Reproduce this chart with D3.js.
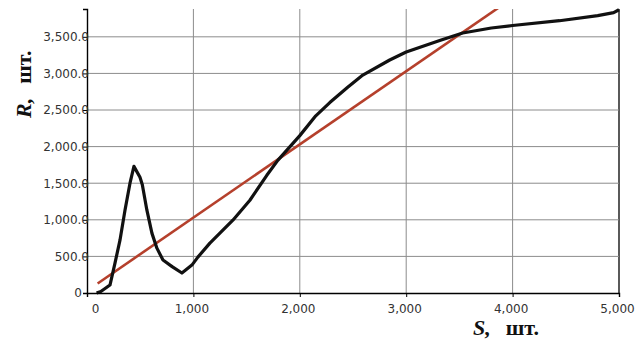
<!DOCTYPE html>
<html>
<head>
<meta charset="utf-8">
<script src="https://cdn.jsdelivr.net/npm/d3@7"></script>
<style>
  body { margin: 0; background: #fff; }
  svg { display: block; }
</style>
</head>
<body>
<svg id="chart"></svg>
<script>
// observed curve R(S)
const curveS = [90, 130, 216, 263, 310, 357, 404, 441, 498, 520, 563, 610, 657, 714, 800, 892, 986, 1042, 1155, 1371, 1531, 1690, 1793, 2000, 2150, 2282, 2450, 2592, 2845, 3000, 3315, 3531, 3800, 4000, 4441, 4800, 4950, 5000];
const curveR = [0, 20, 109, 409, 722, 1131, 1500, 1730, 1580, 1480, 1131, 818, 613, 450, 360, 273, 381, 490, 681, 995, 1267, 1608, 1812, 2150, 2420, 2602, 2810, 2978, 3183, 3292, 3450, 3552, 3620, 3655, 3720, 3790, 3830, 3870];

// trend line
const trendS = [100, 4000];
const trendR = [130, 4030];

const xTicks = [0, 1000, 2000, 3000, 4000, 5000];
const yTicks = [0, 500, 1000, 1500, 2000, 2500, 3000, 3500];

const width = 643, height = 342;
const margin = {top: 9, right: 24, bottom: 49, left: 87};
const innerW = width - margin.left - margin.right;
const innerH = height - margin.top - margin.bottom;

const svg = d3.select('#chart')
    .attr('width', width)
    .attr('height', height);

const chart = svg.append('g')
    .attr('transform', `translate(${margin.left}, ${margin.top})`);

const xscale = d3.scaleLinear().domain([0, 5000]).range([0, innerW]);
const yscale = d3.scaleLinear().domain([0, 3880]).range([innerH, 0]);

// grid
chart.append('g')
    .selectAll('line')
    .data(xTicks.slice(1))
    .join('line')
    .attr('x1', d => xscale(d)).attr('x2', d => xscale(d))
    .attr('y1', 0).attr('y2', innerH)
    .attr('stroke', d => d === 5000 ? '#000' : '#8c8c8c')
    .attr('stroke-width', d => d === 5000 ? 1.3 : 1);

chart.append('g')
    .selectAll('line')
    .data(yTicks.slice(1))
    .join('line')
    .attr('x1', 0).attr('x2', innerW)
    .attr('y1', d => yscale(d)).attr('y2', d => yscale(d))
    .attr('stroke', '#8c8c8c')
    .attr('stroke-width', 1);

// lines
svg.append('clipPath').attr('id', 'plot')
    .append('rect').attr('x', 0).attr('y', 0).attr('width', innerW).attr('height', innerH);

const line = d3.line()
    .x(d => xscale(d[0]))
    .y(d => yscale(d[1]));

chart.append('path')
    .attr('clip-path', 'url(#plot)')
    .attr('d', line(trendS.map((s, i) => [s, trendR[i]])))
    .attr('fill', 'none')
    .attr('stroke', '#b5402c')
    .attr('stroke-width', 2.6);

chart.append('path')
    .attr('d', line(curveS.map((s, i) => [s, curveR[i]])))
    .attr('fill', 'none')
    .attr('stroke', '#111')
    .attr('stroke-width', 3.2)
    .attr('stroke-linejoin', 'round');

// axes
const xaxis = d3.axisBottom(xscale)
    .tickValues(xTicks)
    .tickSize(4)
    .tickFormat(d3.format(','));

const yaxis = d3.axisLeft(yscale)
    .tickValues(yTicks)
    .tickSize(4)
    .tickFormat(d => d === 0 ? '0' : d3.format(',.1f')(d));

const xg = chart.append('g')
    .attr('transform', `translate(0, ${innerH})`)
    .call(xaxis);

const yg = chart.append('g')
    .call(yaxis);

[xg, yg].forEach(g => {
    g.select('.domain').attr('stroke', '#000').attr('stroke-width', 1.4);
    g.selectAll('.tick line').attr('stroke', '#000');
    g.selectAll('.tick text')
        .attr('fill', '#333')
        .style('font-family', '"DejaVu Sans", Verdana, sans-serif')
        .style('font-size', '12px');
});

xg.selectAll('.tick text').attr('dy', '1.05em').attr('dx', d => d === 0 ? 8 : -2);
yg.selectAll('.tick text').attr('x', d => d === 0 ? -5 : 2);

// titles
const title = svg.append('text')
    .attr('transform', 'translate(31, 118) rotate(-90)')
    .style('font-family', '"Liberation Serif", "Times New Roman", serif')
    .style('font-size', '22px')
    .style('font-weight', 'bold')
    .attr('fill', '#111');
title.append('tspan').style('font-style', 'italic').text('R,');
title.append('tspan').attr('dx', 14).text('шт.');

const xtitle = svg.append('text')
    .attr('x', 473)
    .attr('y', 335)
    .style('font-family', '"Liberation Serif", "Times New Roman", serif')
    .style('font-size', '22px')
    .style('font-weight', 'bold')
    .attr('fill', '#111');
xtitle.append('tspan').style('font-style', 'italic').text('S,');
xtitle.append('tspan').attr('dx', 15).text('шт.');
</script>
</body>
</html>
